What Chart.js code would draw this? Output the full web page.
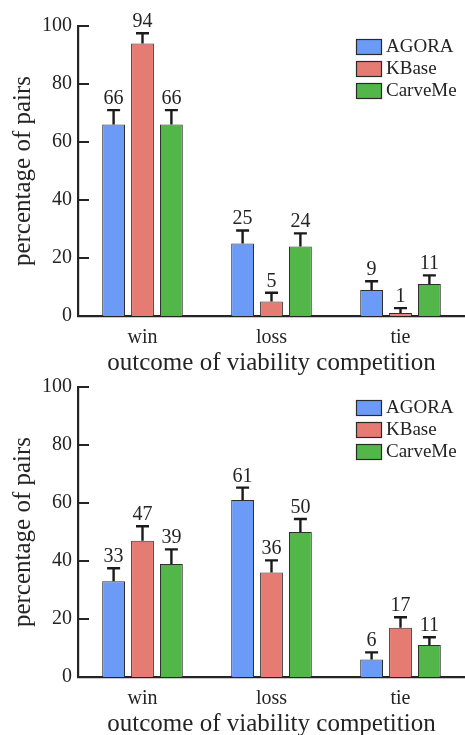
<!DOCTYPE html>
<html>
<head>
<meta charset="utf-8">
<script src="https://cdn.jsdelivr.net/npm/chart.js@4/dist/chart.umd.min.js"></script>
<style>
  html, body { margin: 0; padding: 0; background: #fff; }
  body { width: 465px; height: 735px; position: relative; overflow: hidden; }
  .panel { position: absolute; left: 0; width: 465px; height: 375px; }
  #panelTop { top: 0; }
  #panelBottom { top: 361px; }
</style>
</head>
<body>
<div class="panel" id="panelTop"><canvas id="chartTop"></canvas></div>
<div class="panel" id="panelBottom"><canvas id="chartBottom"></canvas></div>
<script>
// Outcome categories and model sources
const categories = ['win', 'loss', 'tie'];
const seriesNames = ['AGORA', 'KBase', 'CarveMe'];
const yTicks = [0, 20, 40, 60, 80, 100];

// Upper panel: percentage of pairs and error (upper extent)
const topAgora = [66, 25, 9];
const topKbase = [94, 5, 1];
const topCarveMe = [66, 24, 11];
const topAgoraErr = [5, 4.5, 3];
const topKbaseErr = [3.5, 3, 1.7];
const topCarveMeErr = [5, 4.5, 3];

// Lower panel
const bottomAgora = [33, 61, 6];
const bottomKbase = [47, 36, 17];
const bottomCarveMe = [39, 50, 11];
const bottomAgoraErr = [4.5, 4.3, 2.5];
const bottomKbaseErr = [5, 4.2, 3.6];
const bottomCarveMeErr = [5, 4.5, 2.7];

const seriesColors = ['#6b9bf7', '#e57b72', '#52b748'];
const ink = '#242424';
const serif = "'Liberation Serif', 'Times New Roman', serif";

// Inward tick marks, upward error bars with caps, and value labels
const errorBarPlugin = {
  id: 'errorBars',
  afterDatasetsDraw(chart) {
    const ctx = chart.ctx;
    const yScale = chart.scales.y;
    const area = chart.chartArea;
    ctx.save();
    ctx.strokeStyle = ink;
    ctx.lineWidth = 2.2;
    ctx.beginPath();
    yTicks.forEach(v => {
      const py = yScale.getPixelForValue(v);
      ctx.moveTo(area.left, py);
      ctx.lineTo(area.left + 11, py);
    });
    ctx.stroke();

    chart.data.datasets.forEach((ds, i) => {
      const meta = chart.getDatasetMeta(i);
      meta.data.forEach((bar, j) => {
        const v = ds.data[j];
        const top = yScale.getPixelForValue(v + ds.errors[j]);
        ctx.strokeStyle = '#1a1a1a';
        ctx.lineWidth = 2.4;
        ctx.beginPath();
        ctx.moveTo(bar.x, bar.y);
        ctx.lineTo(bar.x, top);
        ctx.moveTo(bar.x - 6.5, top);
        ctx.lineTo(bar.x + 6.5, top);
        ctx.stroke();
        ctx.fillStyle = ink;
        ctx.font = '20px ' + serif;
        ctx.textAlign = 'center';
        ctx.textBaseline = 'alphabetic';
        ctx.fillText(String(v), bar.x, top - 6);
      });
    });
    ctx.restore();
  }
};

// Stacked legend in the upper right of the plot
const boxLegendPlugin = {
  id: 'boxLegend',
  afterDraw(chart) {
    const ctx = chart.ctx;
    ctx.save();
    chart.data.datasets.forEach((ds, i) => {
      const bx = 356, by = 39 + i * 22;
      ctx.fillStyle = ds.backgroundColor;
      ctx.fillRect(bx, by, 26, 16);
      ctx.strokeStyle = '#2a2a2a';
      ctx.lineWidth = 1.2;
      ctx.strokeRect(bx + 0.5, by + 0.5, 25, 15);
      ctx.fillStyle = ink;
      ctx.font = '19px ' + serif;
      ctx.textAlign = 'left';
      ctx.textBaseline = 'middle';
      ctx.fillText(ds.label, bx + 30, by + 8.5);
    });
    ctx.restore();
  }
};

function makeChart(canvasId, values, errors) {
  const datasets = seriesNames.map((name, i) => ({
    label: name,
    data: values[i],
    errors: errors[i],
    backgroundColor: seriesColors[i],
    borderColor: '#2e2e2e',
    borderWidth: 1,
    categoryPercentage: 0.672,
    barPercentage: 0.79
  }));
  return new Chart(document.getElementById(canvasId), {
    type: 'bar',
    data: { labels: categories, datasets },
    plugins: [errorBarPlugin, boxLegendPlugin],
    options: {
      responsive: true,
      maintainAspectRatio: false,
      animation: false,
      layout: { padding: { top: 26, right: 0, bottom: 0, left: 0 } },
      plugins: { legend: { display: false }, tooltip: { enabled: false } },
      scales: {
        x: {
          type: 'category',
          offset: true,
          grid: { display: false, drawTicks: false },
          border: { display: true, color: ink, width: 2.2 },
          ticks: { color: ink, padding: 10, font: { family: serif, size: 20 } },
          title: {
            display: true,
            text: 'outcome of viability competition',
            color: ink,
            font: { family: serif, size: 25, lineHeight: 1 },
            padding: { top: 0, bottom: -1 }
          },
          afterFit(scale) { scale.height = 59; }
        },
        y: {
          min: 0,
          max: 100,
          afterBuildTicks(scale) { scale.ticks = yTicks.map(v => ({ value: v })); },
          grid: { display: false, drawTicks: false },
          border: { display: true, color: ink, width: 2.2 },
          ticks: { color: ink, padding: 6, font: { family: serif, size: 20 } },
          title: {
            display: true,
            text: 'percentage of pairs',
            color: ink,
            font: { family: serif, size: 25, lineHeight: 1 },
            padding: { top: 11, bottom: 0 }
          },
          afterFit(scale) { scale.width = 78; }
        }
      }
    }
  });
}

makeChart('chartTop', [topAgora, topKbase, topCarveMe], [topAgoraErr, topKbaseErr, topCarveMeErr]);
makeChart('chartBottom', [bottomAgora, bottomKbase, bottomCarveMe], [bottomAgoraErr, bottomKbaseErr, bottomCarveMeErr]);
</script>
</body>
</html>
